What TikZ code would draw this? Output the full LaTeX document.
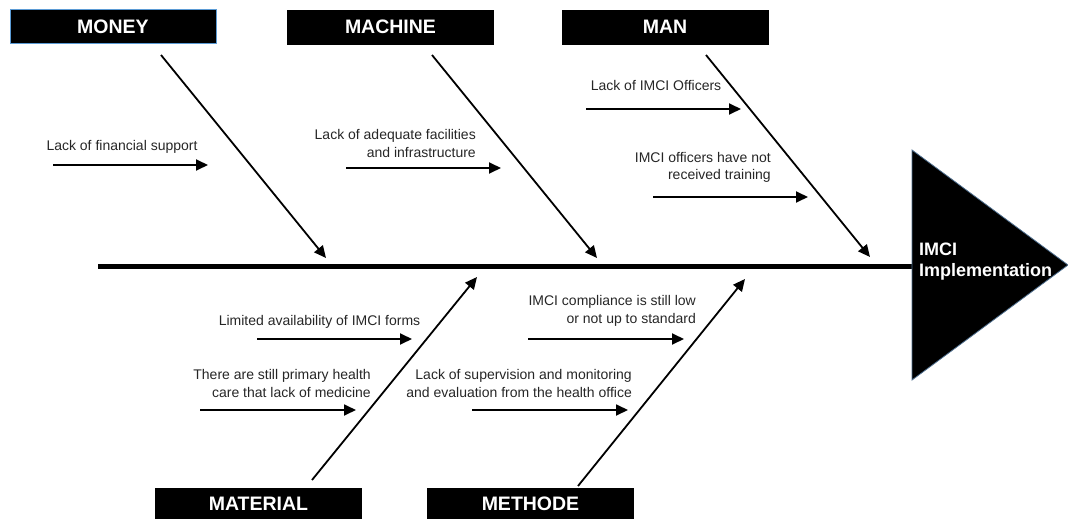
\documentclass[tikz,border=0pt]{standalone}
\usepackage{fontspec}
\setmainfont{Liberation Sans}
\usetikzlibrary{arrows.meta}
\definecolor{edgeblue}{HTML}{5B9BD5}
\definecolor{headedge}{HTML}{4F6F8F}
\begin{document}
\begin{tikzpicture}[x=1pt,y=-1pt,
  catbox/.style={fill=black,draw=black,text=white,font=\fontsize{19.5}{22}\selectfont\bfseries,minimum width=206pt,minimum height=34pt,inner sep=0pt},
  bone/.style={line width=1.8pt,-{Triangle[length=12pt,width=11pt]}},
  subarrow/.style={line width=1.8pt,-{Triangle[length=12pt,width=11pt]}},
  lbl/.style={font=\fontsize{14}{17.5}\selectfont,inner sep=0pt,align=right,text=black!85}]
\useasboundingbox (0,0) rectangle (1068,519);

% category boxes
\node[catbox,draw=edgeblue,line width=1pt] (money) at (113,27) {MONEY};
\node[catbox] (machine) at (390.5,27) {MACHINE};
\node[catbox] (man) at (665,27) {MAN};
\node[catbox,minimum height=32pt] (material) at (258.5,504) {MATERIAL};
\node[catbox,minimum height=32pt] (methode) at (530.5,504) {METHODE};

% spine and head
\coordinate (spineL) at (98,266);
\coordinate (headT) at (912,150);
\coordinate (headTip) at (1068,265);
\coordinate (headB) at (912,380);
\coordinate (spineR) at (912,266);
\draw[line width=5pt] (spineL) -- (spineR);
\draw[fill=black,draw=headedge,line width=0.8pt] (headT) -- (headTip) -- (headB) -- cycle;
\node[anchor=west,text=white,font=\fontsize{18}{21}\selectfont\bfseries,align=left,inner sep=0pt] (effect) at (919,262) {IMCI\\Implementation};

% main bones
\coordinate (b1s) at (161,55);  \coordinate (b1e) at (326,258);
\coordinate (b2s) at (432,55);  \coordinate (b2e) at (597,258);
\coordinate (b3s) at (706,55);  \coordinate (b3e) at (870,257);
\coordinate (b4s) at (312,480); \coordinate (b4e) at (477,277);
\coordinate (b5s) at (578,486); \coordinate (b5e) at (745,279);
\draw[bone] (b1s) -- (b1e);
\draw[bone] (b2s) -- (b2e);
\draw[bone] (b3s) -- (b3e);
\draw[bone] (b4s) -- (b4e);
\draw[bone] (b5s) -- (b5e);

% sub causes
\coordinate (c1s) at (53,165);  \coordinate (c1e) at (208,165);
\coordinate (c2s) at (346,168); \coordinate (c2e) at (501,168);
\coordinate (c3s) at (586,109); \coordinate (c3e) at (741,109);
\coordinate (c4s) at (653,197); \coordinate (c4e) at (808,197);
\coordinate (c5s) at (257,339); \coordinate (c5e) at (412,339);
\coordinate (c6s) at (200,410); \coordinate (c6e) at (356,410);
\coordinate (c7s) at (528,339); \coordinate (c7e) at (684,339);
\coordinate (c8s) at (472,410); \coordinate (c8e) at (628,410);
\foreach \i in {1,...,8} {\draw[subarrow] (c\i s) -- (c\i e);}

\node[lbl] (t1) at (122,147) {Lack of financial support};
\node[lbl,anchor=east] (t2) at (476,143.5) {Lack of adequate facilities\\and infrastructure};
\node[lbl] (t3) at (656,85) {Lack of IMCI Officers};
\node[lbl,anchor=east] (t4) at (771,167.5) {IMCI officers have not\\received training};
\node[lbl] (t5) at (319.5,322) {Limited availability of IMCI forms};
\node[lbl,anchor=east] (t6) at (371,383.5) {There are still primary health\\care that lack of medicine};
\node[lbl,anchor=east] (t7) at (696,311) {IMCI compliance is still low\\or not up to standard};
\node[lbl,anchor=east] (t8) at (632,383.5) {Lack of supervision and monitoring\\and evaluation from the health office};
\end{tikzpicture}
\end{document}
